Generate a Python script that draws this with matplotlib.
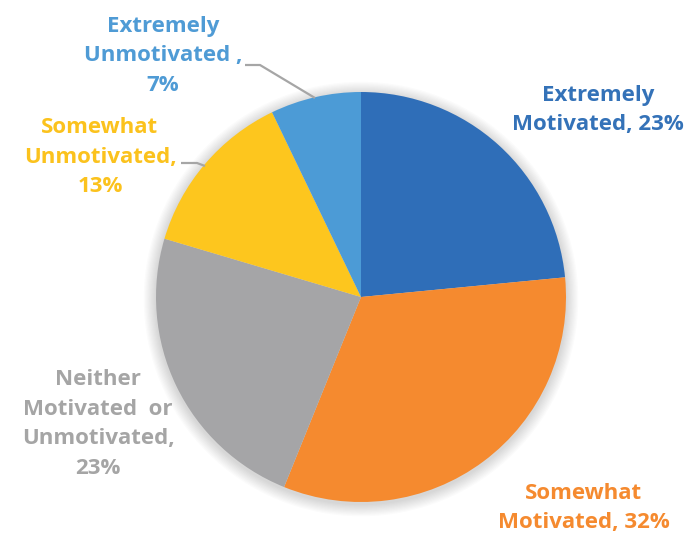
import matplotlib
matplotlib.use("Agg")
import matplotlib.pyplot as plt
from matplotlib.patches import Circle

categories = ["Extremely Motivated", "Somewhat Motivated",
              "Neither Motivated or Unmotivated", "Somewhat Unmotivated",
              "Extremely Unmotivated"]
values = [23, 32, 23, 13, 7]
label_texts = ["Extremely\nMotivated, 23%", "Somewhat\nMotivated, 32%",
               "Neither\nMotivated  or\nUnmotivated,\n23%",
               "Somewhat\nUnmotivated,\n13%", "Extremely\nUnmotivated ,\n7%"]
slice_colors = ["#2F6EB8", "#F58A2F", "#A5A5A7", "#FDC61E", "#4C9BD6"]
text_colors = ["#3472B8", "#F58A2F", "#A5A5A5", "#FBC21D", "#4F9BD5"]

W, H = 691, 535
fig = plt.figure(figsize=(W / 100, H / 100), dpi=100)
cx, cy, r = 361, H - 297, 205
ax = fig.add_axes([0, 0, 1, 1])

# soft shadow around the pie
for i in range(10):
    ax.add_patch(Circle((0.0, -0.01), 1.0 + 0.006 * (i + 1), color="#000000",
                        alpha=0.016, lw=0, zorder=0))

wedges, _ = ax.pie(values, colors=slice_colors, startangle=90,
                   counterclock=False, radius=1.0,
                   wedgeprops=dict(linewidth=0))
for w in wedges:
    w.set_zorder(2)

# map the whole figure so the pie (radius 1) sits at its pixel centre
ax.set_xlim(-cx / r, (W - cx) / r)
ax.set_ylim(-cy / r, (H - cy) / r)
ax.set_aspect("auto")
ax.axis("off")


def px(x, y):
    return ((x - cx) / r, (H - y - cy) / r)


label_pos = [px(598, 110), px(584, 508), px(98, 424), px(100, 157), px(163, 56)]
font = dict(family=["Open Sans", "DejaVu Sans"], fontweight="bold", fontsize=16)
for txt, pos, col in zip(label_texts, label_pos, text_colors):
    ax.text(pos[0], pos[1], txt, color=col, ha="center", va="center",
            linespacing=1.55, zorder=3, **font)

# leader lines
leaders = [
    [(245, 65), (260, 65), (315, 98)],
    [(181, 163), (197, 163), (205, 166)],
]
for pts in leaders:
    xs, ys = zip(*[px(*p) for p in pts])
    ax.plot(xs, ys, color="#A6A6A6", lw=1.6, zorder=3, solid_capstyle="butt")

fig.savefig("out.png", dpi=100)
